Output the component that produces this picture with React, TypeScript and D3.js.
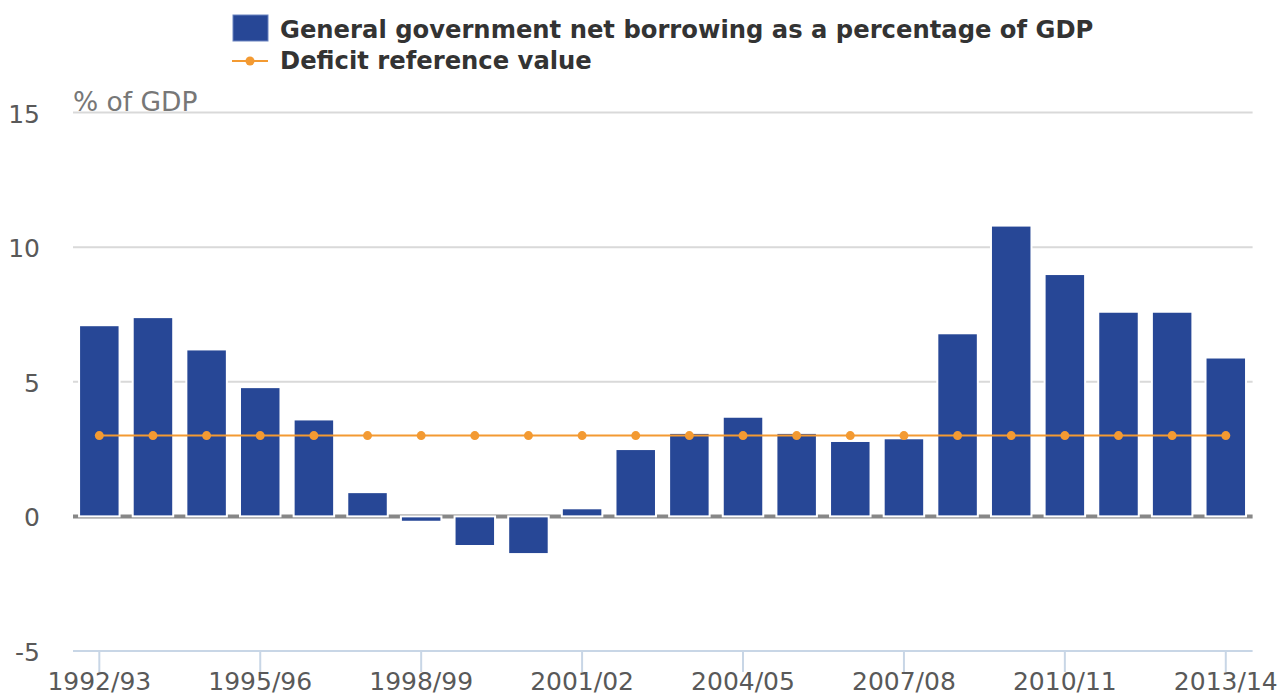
import React from "react";
import * as d3 from "d3";

const categories = ["1992/93","1993/94","1994/95","1995/96","1996/97","1997/98","1998/99","1999/00","2000/01","2001/02","2002/03","2003/04","2004/05","2005/06","2006/07","2007/08","2008/09","2009/10","2010/11","2011/12","2012/13","2013/14"];
const borrowing = [7.1,7.4,6.2,4.8,3.6,0.9,-0.2,-1.1,-1.4,0.3,2.5,3.1,3.7,3.1,2.8,2.9,6.8,10.8,9.0,7.6,7.6,5.9];
const reference = [3,3,3,3,3,3,3,3,3,3,3,3,3,3,3,3,3,3,3,3,3,3];
const yTicks = [-5,0,5,10,15];
const xTickLabels = ["1992/93","1995/96","1998/99","2001/02","2004/05","2007/08","2010/11","2013/14"];

const W = 1282, H = 695;
const left = 72.5, right = 1252.6, top = 112.5, bottom = 651;
const BAR = "#274796";
const ORANGE = "#f39a32";
const FONT = "DejaVu Sans, sans-serif";

export default function App() {
  const x = d3.scaleBand().domain(categories).range([left, right]).paddingInner(0.245).paddingOuter(0.1225);
  const xc = (c: string) => (x(c) as number) + x.bandwidth() / 2;
  const y = d3.scaleLinear().domain([-5, 15]).range([bottom, top]);
  const line = d3.line<number>().x((_, i) => xc(categories[i])).y(d => y(d));
  return (
    <svg width={W} height={H} style={{ position: "absolute", left: 0, top: 0, background: "#fff" }} fontFamily={FONT}>
      {yTicks.filter(t => t > 0).map(t => (
        <line key={t} x1={73} x2={right} y1={y(t)} y2={y(t)} stroke="#d9d9d9" strokeWidth={2} />
      ))}
      <line x1={73} x2={right} y1={bottom} y2={bottom} stroke="#c8d6e6" strokeWidth={2} />
      {xTickLabels.map(c => (
        <line key={c} x1={xc(c)} x2={xc(c)} y1={bottom} y2={bottom + 21} stroke="#c8d6e6" strokeWidth={2} />
      ))}
      <line x1={73} x2={right} y1={y(0)} y2={y(0)} stroke="#878787" strokeWidth={4} />
      {yTicks.map(t => (
        <text key={t} x={40} y={y(t) + 10} textAnchor="end" fontSize={25} fill="#595959">{t}</text>
      ))}
      <text x={73} y={111} fontSize={26.5} fill="#777">% of GDP</text>
      {categories.map((c, i) => {
        const v = borrowing[i];
        const y0 = y(Math.max(0, v)), y1 = y(Math.min(0, v));
        return <rect key={c} x={x(c)} y={y0} width={x.bandwidth()} height={Math.max(1, y1 - y0)} fill={BAR} stroke="#fff" strokeWidth={2} />;
      })}
      <path d={line(reference) as string} fill="none" stroke={ORANGE} strokeWidth={2} />
      {reference.map((v, i) => (
        <circle key={i} cx={xc(categories[i])} cy={y(v)} r={4.5} fill={ORANGE} />
      ))}
      {xTickLabels.map(c => (
        <text key={c} x={xc(c)} y={690} textAnchor="middle" fontSize={25} fill="#595959">{c}</text>
      ))}
      <rect x={233} y={15} width={35} height={26} fill={BAR} stroke="#6a83c0" strokeWidth={1} />
      <text x={280} y={38} fontSize={24.25} fontWeight="bold" fill="#333">General government net borrowing as a percentage of GDP</text>
      <line x1={232} x2={268} y1={61} y2={61} stroke={ORANGE} strokeWidth={2} />
      <circle cx={250} cy={61} r={4.5} fill={ORANGE} />
      <text x={280} y={69} fontSize={24.25} fontWeight="bold" fill="#333">Deficit reference value</text>
    </svg>
  );
}
